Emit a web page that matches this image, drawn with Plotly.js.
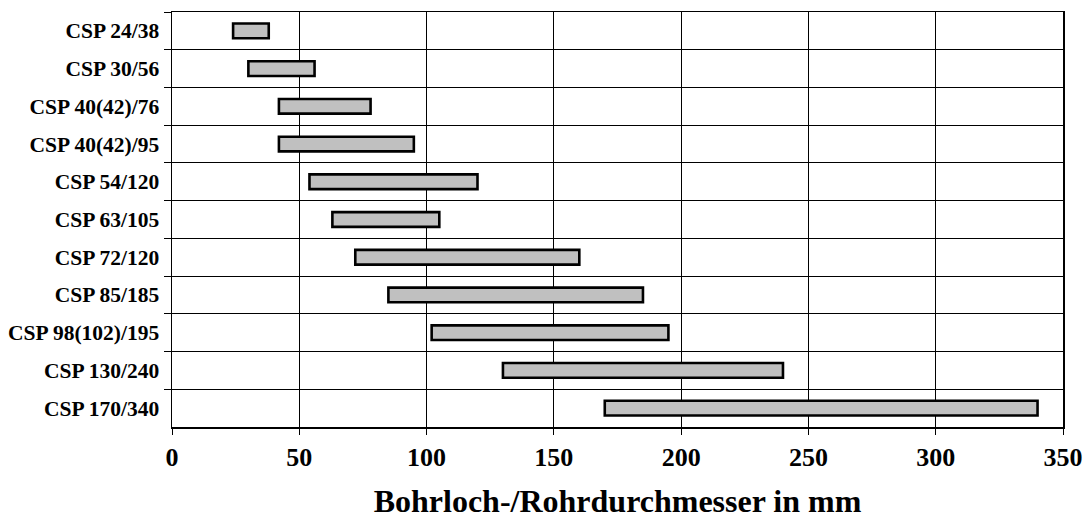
<!DOCTYPE html>
<html>
<head>
<meta charset="utf-8">
<script src="https://cdn.plot.ly/plotly-3.0.1.min.js"></script>
<style>html,body{margin:0;padding:0;background:#fff;}#chart{width:1085px;height:525px;}</style>
</head>
<body>
<div id="chart"></div>
<script>
const categories = ["CSP 24/38","CSP 30/56","CSP 40(42)/76","CSP 40(42)/95","CSP 54/120","CSP 63/105","CSP 72/120","CSP 85/185","CSP 98(102)/195","CSP 130/240","CSP 170/340"];
const rangeStart = [24, 30, 42, 42, 54, 63, 72, 85, 102, 130, 170];
const rangeEnd   = [38, 56, 78, 95, 120, 105, 160, 185, 195, 240, 340];
const xTicks = [0, 50, 100, 150, 200, 250, 300, 350];

const font = "Liberation Serif, Times New Roman, serif";

const trace = {
  type: "bar",
  orientation: "h",
  y: categories,
  base: rangeStart,
  x: rangeEnd.map((e, i) => e - rangeStart[i]),
  width: 0.39,
  marker: {color: "#c0c0c0", line: {color: "#000", width: 2.6}},
  hoverinfo: "skip",
  showlegend: false
};

const layout = {
  width: 1085, height: 525,
  margin: {l: 172, r: 22, t: 12, b: 98},
  paper_bgcolor: "#fff", plot_bgcolor: "#fff",
  font: {family: font, color: "#000"},
  showlegend: false,
  xaxis: {
    range: [0, 350],
    tickvals: xTicks,
    ticktext: xTicks.map(String),
    showgrid: true, gridcolor: "#000", gridwidth: 1,
    zeroline: false,
    showline: true, linecolor: "#000", linewidth: 1.5, mirror: true,
    ticks: "outside", ticklen: 6, tickcolor: "#000", tickwidth: 1,
    tickfont: {family: font, size: 26, color: "#000", weight: "bold"},
    title: {text: "<b>Bohrloch-/Rohrdurchmesser in mm</b>", font: {family: font, size: 32, color: "#000"}, standoff: 19}
  },
  yaxis: {
    type: "category",
    categoryorder: "array", categoryarray: categories,
    autorange: "reversed",
    tickson: "boundaries",
    showgrid: true, gridcolor: "#000", gridwidth: 1,
    zeroline: false,
    showline: true, linecolor: "#000", linewidth: 1.5, mirror: true,
    ticks: "outside", ticklen: 7, tickcolor: "#000", tickwidth: 1,
    ticklabelstandoff: 7,
    tickfont: {family: font, size: 21.5, color: "#000", weight: "bold"}
  },
  bargap: 0.6
};

Plotly.newPlot("chart", [trace], layout, {staticPlot: true, displayModeBar: false});
</script>
</body>
</html>
